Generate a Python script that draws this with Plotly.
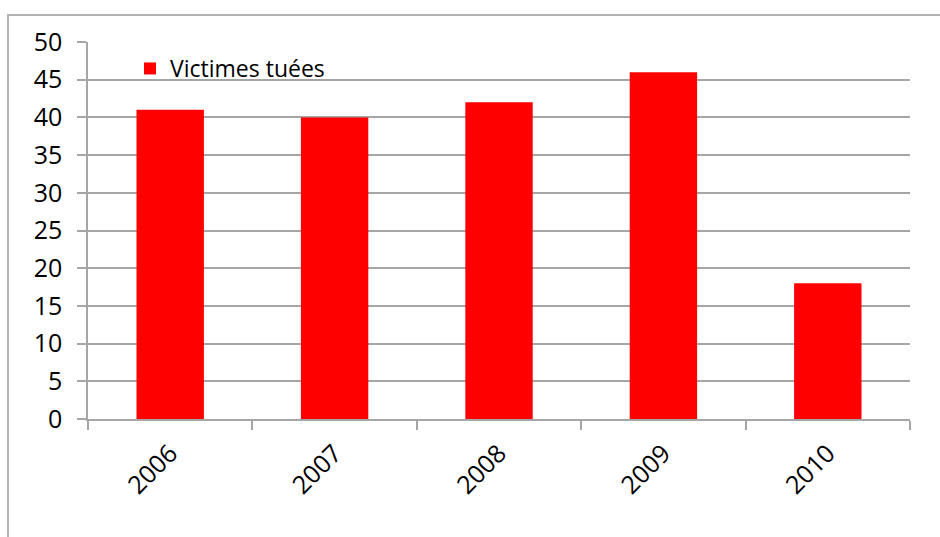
import plotly.graph_objects as go

# Killed victims per year
years = ["2006", "2007", "2008", "2009", "2010"]
victims = [41, 40, 42, 46, 18]
y_ticks = [0, 5, 10, 15, 20, 25, 30, 35, 40, 45, 50]

W, H = 940, 537
L, R, T, B = 88, 30, 42, 118
pw, ph = W - L - R, H - T - B

grid = "#a6a6a6"
font_family = "Open Sans, DejaVu Sans, sans-serif"

fig = go.Figure()
fig.add_trace(go.Bar(
    x=years, y=victims, name="Victimes tuées",
    marker=dict(color="#ff0000", line=dict(width=0)),
))

# Outer chart frame
fig.add_shape(
    type="rect", xref="paper", yref="paper",
    x0=(8 - L) / pw, x1=(W + 20 - L) / pw,
    y0=-(H + 20 - (H - B)) / ph, y1=(H - B - 15) / ph,
    line=dict(color="#b4b4b4", width=2), fillcolor="rgba(0,0,0,0)",
    layer="below",
)

fig.update_layout(
    width=W, height=H,
    margin=dict(l=L, r=R, t=T, b=B),
    paper_bgcolor="white", plot_bgcolor="white",
    font=dict(family=font_family, size=25, color="black"),
    bargap=0.59,
    showlegend=True,
    legend=dict(
        x=(130 - L) / pw, y=(H - B - 47) / ph, xanchor="left", yanchor="top",
        bgcolor="rgba(0,0,0,0)", font=dict(size=23),
    ),
    xaxis=dict(
        type="category", tickangle=-45, ticks="outside", tickson="boundaries",
        ticklen=9, tickcolor=grid, tickwidth=1.5, showline=True, linecolor=grid,
        linewidth=1.5, showgrid=False, tickfont=dict(size=25),
        ticklabelstandoff=8,
    ),
    yaxis=dict(
        range=[0, 50], tickvals=y_ticks, ticks="outside", ticklen=9,
        tickcolor=grid, tickwidth=1.5, showline=True, linecolor=grid,
        linewidth=1.5, showgrid=True, gridcolor=grid, gridwidth=1.5,
        zeroline=False, tickfont=dict(size=25), ticklabelstandoff=10,
    ),
)

fig.write_html("out.html")
